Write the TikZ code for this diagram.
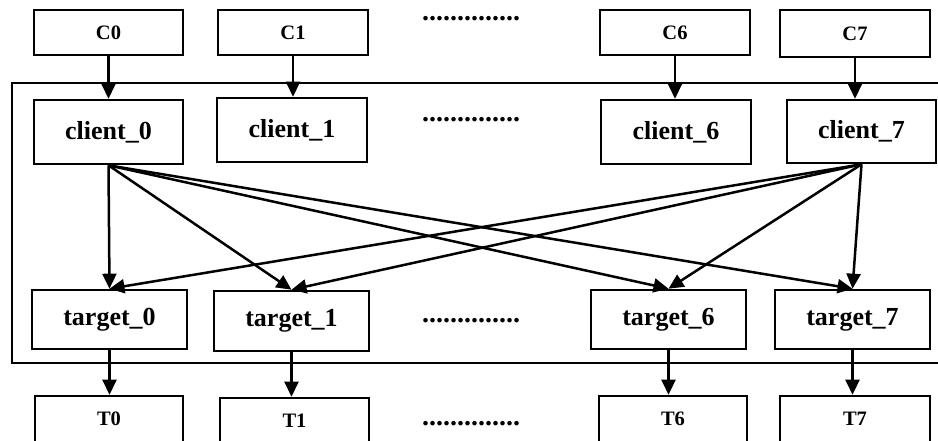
\documentclass[tikz,border=0pt]{standalone}
\usepackage{fontspec}
\setmainfont{Liberation Serif}
\usetikzlibrary{arrows.meta}
\begin{document}
\begin{tikzpicture}[x=1pt,y=-1pt,
  box/.style={draw,line width=2.6pt,inner sep=0pt,font=\bfseries},
  small/.style={box,font=\fontsize{20.5}{24}\selectfont\bfseries,minimum height=45pt},
  big/.style={box,font=\fontsize{26}{30}\selectfont\bfseries},
  dots/.style={inner sep=0pt,font=\fontsize{28}{30}\selectfont\bfseries},
  arr/.style={line width=2.5pt,-{Triangle[length=15pt,width=14pt]}}]
\clip (0,0) rectangle (938,440);
\fill[white] (0,0) rectangle (938,440);
% frame
\draw[line width=2.4pt] (12,83) rectangle (960,363);
% top row
\node[small,minimum width=149pt] (C0) at (108.5,32.5) {C0};
\node[small,minimum width=150pt] (C1) at (293,32.5) {C1};
\node[small,minimum width=150pt] (C6) at (675,32.5) {C6};
\node[small,minimum width=150pt,minimum height=47pt] (C7) at (855,33.5) {C7};
% clients
\node[big,minimum width=149pt,minimum height=64pt] (cl0) at (108.5,132) {client\_0};
\node[big,minimum width=150pt,minimum height=64pt] (cl1) at (292,130) {client\_1};
\node[big,minimum width=150pt,minimum height=64pt] (cl6) at (676,132) {client\_6};
\node[big,minimum width=149pt,minimum height=63pt] (cl7) at (861.5,131.5) {client\_7};
% targets
\node[big,minimum width=155pt,minimum height=59pt] (tg0) at (109.5,319.5) {target\_0};
\node[big,minimum width=155pt,minimum height=60pt] (tg1) at (291.5,321) {target\_1};
\node[big,minimum width=155pt,minimum height=59pt] (tg6) at (668.5,319.5) {target\_6};
\node[big,minimum width=155pt,minimum height=59pt] (tg7) at (852.5,319.5) {target\_7};
% bottom row
\node[small,minimum width=148pt,minimum height=46pt] (T0) at (109,419) {T0};
\node[small,minimum width=149pt,minimum height=46pt] (T1) at (294.5,421) {T1};
\node[small,minimum width=148pt,minimum height=46pt] (T6) at (673,419) {T6};
\node[small,minimum width=150pt,minimum height=46pt] (T7) at (855,419) {T7};
% dots
\node[dots] (d1) at (471,19) {..............};
\node[dots] (d2) at (471,120) {..............};
\node[dots] (d3) at (471,321) {..............};
\node[dots] (d4) at (471,424) {..............};
% arrows top
\draw[arr] (C0.south -| cl0.north) -- (cl0.north);
\draw[arr] (C1.south) -- (C1.south |- cl1.north);
\draw[arr] (C6.south) -- (C6.south |- cl6.north);
\draw[arr] (C7.south) -- (C7.south |- cl7.north);
% cross arrows
\foreach \t in {tg0,tg1,tg6,tg7}{
  \draw[arr] (cl0.south) -- (\t.north);
  \draw[arr] (cl7.south) -- (\t.north);
}
% arrows bottom
\draw[arr] (tg0.south) -- (tg0.south |- T0.north);
\draw[arr] (tg1.south) -- (tg1.south |- T1.north);
\draw[arr] (tg6.south) -- (tg6.south |- T6.north);
\draw[arr] (tg7.south) -- (tg7.south |- T7.north);
\end{tikzpicture}
\end{document}
